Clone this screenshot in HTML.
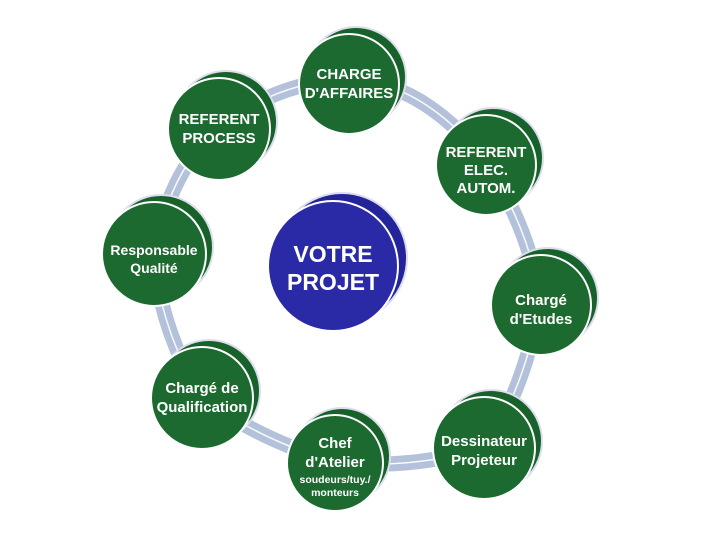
<!DOCTYPE html>
<html><head><meta charset="utf-8"><style>
html,body{margin:0;padding:0;background:#fff;}
svg{display:block;}
text{font-family:"Liberation Sans",sans-serif;font-weight:bold;fill:#fff;text-anchor:middle;}
</style></head><body>
<svg width="715" height="554" viewBox="0 0 715 554" xmlns="http://www.w3.org/2000/svg">
<path d="M348,80 Q420,80 485,160 Q530,230 540,300 Q525,390 484,448 Q410,470 335,462 Q260,440 202,398 Q160,330 154,254 Q170,170 218,128 Q280,80 348,80" fill="none" stroke="#b4c1da" stroke-width="15"/>
<path d="M348,80 Q420,80 485,160 Q530,230 540,300 Q525,390 484,448 Q410,470 335,462 Q260,440 202,398 Q160,330 154,254 Q170,170 218,128 Q280,80 348,80" fill="none" stroke="#ffffff" stroke-width="1.5" opacity="0.9"/>

<g stroke="#ffffff" stroke-width="2">
<circle cx="356" cy="77" r="50" fill="#17612a" stroke="#dde" />
<circle cx="349" cy="84" r="50" fill="#1c6a2f"/>
<circle cx="226" cy="122" r="51" fill="#17612a" stroke="#dde"/>
<circle cx="219" cy="129" r="51" fill="#1c6a2f"/>
<circle cx="493" cy="158" r="50" fill="#17612a" stroke="#dde"/>
<circle cx="486" cy="165" r="50" fill="#1c6a2f"/>
<circle cx="161" cy="247" r="52" fill="#17612a" stroke="#dde"/>
<circle cx="154" cy="254" r="52" fill="#1c6a2f"/>
<circle cx="548" cy="298" r="50" fill="#17612a" stroke="#dde"/>
<circle cx="541" cy="305" r="50" fill="#1c6a2f"/>
<circle cx="209" cy="391" r="51" fill="#17612a" stroke="#dde"/>
<circle cx="202" cy="398" r="51" fill="#1c6a2f"/>
<circle cx="491" cy="441" r="51" fill="#17612a" stroke="#dde"/>
<circle cx="484" cy="448" r="51" fill="#1c6a2f"/>
<circle cx="342" cy="456" r="48" fill="#17612a" stroke="#dde"/>
<circle cx="335" cy="463" r="48" fill="#1c6a2f"/>
<circle cx="342" cy="258" r="65" fill="#23239a" stroke="#dde"/>
<circle cx="333" cy="266" r="65" fill="#2a2aa6"/>
</g>

<text x="349" y="79" font-size="15">CHARGE</text>
<text x="349" y="98" font-size="15">D'AFFAIRES</text>
<text x="219" y="124" font-size="15">REFERENT</text>
<text x="219" y="143" font-size="15">PROCESS</text>
<text x="486" y="157" font-size="15">REFERENT</text>
<text x="486" y="175" font-size="15">ELEC.</text>
<text x="486" y="193" font-size="15">AUTOM.</text>
<text x="154" y="255" font-size="14">Responsable</text>
<text x="154" y="273" font-size="14">Qualité</text>
<text x="541" y="305" font-size="15">Chargé</text>
<text x="541" y="324" font-size="15">d'Etudes</text>
<text x="202" y="393" font-size="15">Chargé de</text>
<text x="202" y="412" font-size="15">Qualification</text>
<text x="484" y="446" font-size="15">Dessinateur</text>
<text x="484" y="465" font-size="15">Projeteur</text>
<text x="335" y="448" font-size="15">Chef</text>
<text x="335" y="467" font-size="15">d'Atelier</text>
<text x="335" y="483" font-size="10.5">soudeurs/tuy./</text>
<text x="335" y="496" font-size="10.5">monteurs</text>
<text x="333" y="262" font-size="23">VOTRE</text>
<text x="333" y="290" font-size="23">PROJET</text>
</svg>
</body></html>
